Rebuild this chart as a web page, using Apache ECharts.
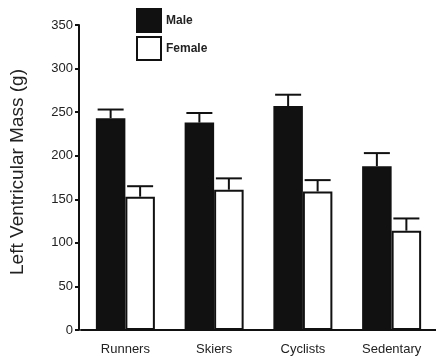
<!DOCTYPE html>
<html>
<head>
<meta charset="utf-8">
<script src="https://cdn.jsdelivr.net/npm/echarts@6/dist/echarts.min.js"></script>
<style>
html,body{margin:0;padding:0;background:#fff;}
#c{width:436px;height:356px;}
</style>
</head>
<body>
<div id="c"></div>
<script>
const categories = ['Runners', 'Skiers', 'Cyclists', 'Sedentary'];
const maleMean = [243, 238, 257, 188];
const maleErr = [10, 11, 13, 15];
const femaleMean = [153, 161, 159, 114];
const femaleErr = [12, 13, 13, 14];
const yTicks = [0, 50, 100, 150, 200, 250, 300, 350];

const BAR_W = 29.5;
const CAP_HALF = 13;
const INK = '#111';

function errData(mean, err) {
  return mean.map((m, i) => [i, m, m + err[i]]);
}
function errRenderer(side) {
  return function (params, api) {
    const i = api.value(0);
    const p0 = api.coord([i, api.value(1)]);
    const p1 = api.coord([i, api.value(2)]);
    const cx = p0[0] + side * BAR_W / 2;
    const st = { stroke: INK, lineWidth: 2 };
    return {
      type: 'group',
      children: [
        { type: 'line', shape: { x1: cx, y1: p0[1], x2: cx, y2: p1[1] }, style: st },
        { type: 'line', shape: { x1: cx - CAP_HALF, y1: p1[1], x2: cx + CAP_HALF, y2: p1[1] }, style: st }
      ]
    };
  };
}

const chart = echarts.init(document.getElementById('c'), null, { renderer: 'canvas' });
chart.setOption({
  animation: false,
  backgroundColor: '#fff',
  textStyle: { fontFamily: 'Liberation Sans, Arial, sans-serif', color: '#222' },
  grid: { left: 81, right: -8, top: 25, bottom: 25, containLabel: false },
  legend: {
    orient: 'vertical',
    left: 136,
    top: 8,
    itemWidth: 24,
    itemHeight: 23,
    itemGap: 3,
    icon: 'rect',
    padding: 0,
    textStyle: { fontSize: 12, fontWeight: 'bold', color: '#222', fontFamily: 'Liberation Sans, Arial, sans-serif' },
    data: [
      { name: 'Male', itemStyle: { color: INK, borderColor: INK, borderWidth: 2 } },
      { name: 'Female', itemStyle: { color: '#fff', borderColor: INK, borderWidth: 2 } }
    ]
  },
  xAxis: {
    type: 'category',
    data: categories,
    axisLine: { lineStyle: { color: INK, width: 2 } },
    axisTick: { alignWithLabel: true, length: 5, lineStyle: { color: INK, width: 2 } },
    axisLabel: { fontSize: 13, color: '#222', margin: 13 },
    splitLine: { show: false }
  },
  yAxis: {
    type: 'value',
    min: 0,
    max: 350,
    interval: 50,
    offset: 2,
    name: 'Left Ventricular Mass (g)',
    nameLocation: 'middle',
    nameGap: 52,
    nameTextStyle: { fontSize: 19, color: '#222', padding: [0, 0, 0, 11] },
    axisLine: { show: true, lineStyle: { color: INK, width: 2 } },
    axisTick: { show: true, length: 4, lineStyle: { color: INK, width: 2 } },
    axisLabel: { fontSize: 13, color: '#222', margin: 6 },
    splitLine: { show: false }
  },
  series: [
    {
      name: 'Male',
      type: 'bar',
      data: maleMean,
      barWidth: BAR_W,
      barGap: '0%',
      itemStyle: { color: INK, borderColor: INK, borderWidth: 2 }
    },
    {
      name: 'Female',
      type: 'bar',
      data: femaleMean,
      barWidth: BAR_W,
      barGap: '0%',
      itemStyle: { color: '#fff', borderColor: INK, borderWidth: 2 }
    },
    {
      name: 'MaleErr',
      type: 'custom',
      data: errData(maleMean, maleErr),
      renderItem: errRenderer(-1),
      encode: { x: 0, y: [1, 2] },
      z: 3,
      silent: true
    },
    {
      name: 'FemaleErr',
      type: 'custom',
      data: errData(femaleMean, femaleErr),
      renderItem: errRenderer(1),
      encode: { x: 0, y: [1, 2] },
      z: 3,
      silent: true
    }
  ]
});
</script>
</body>
</html>
